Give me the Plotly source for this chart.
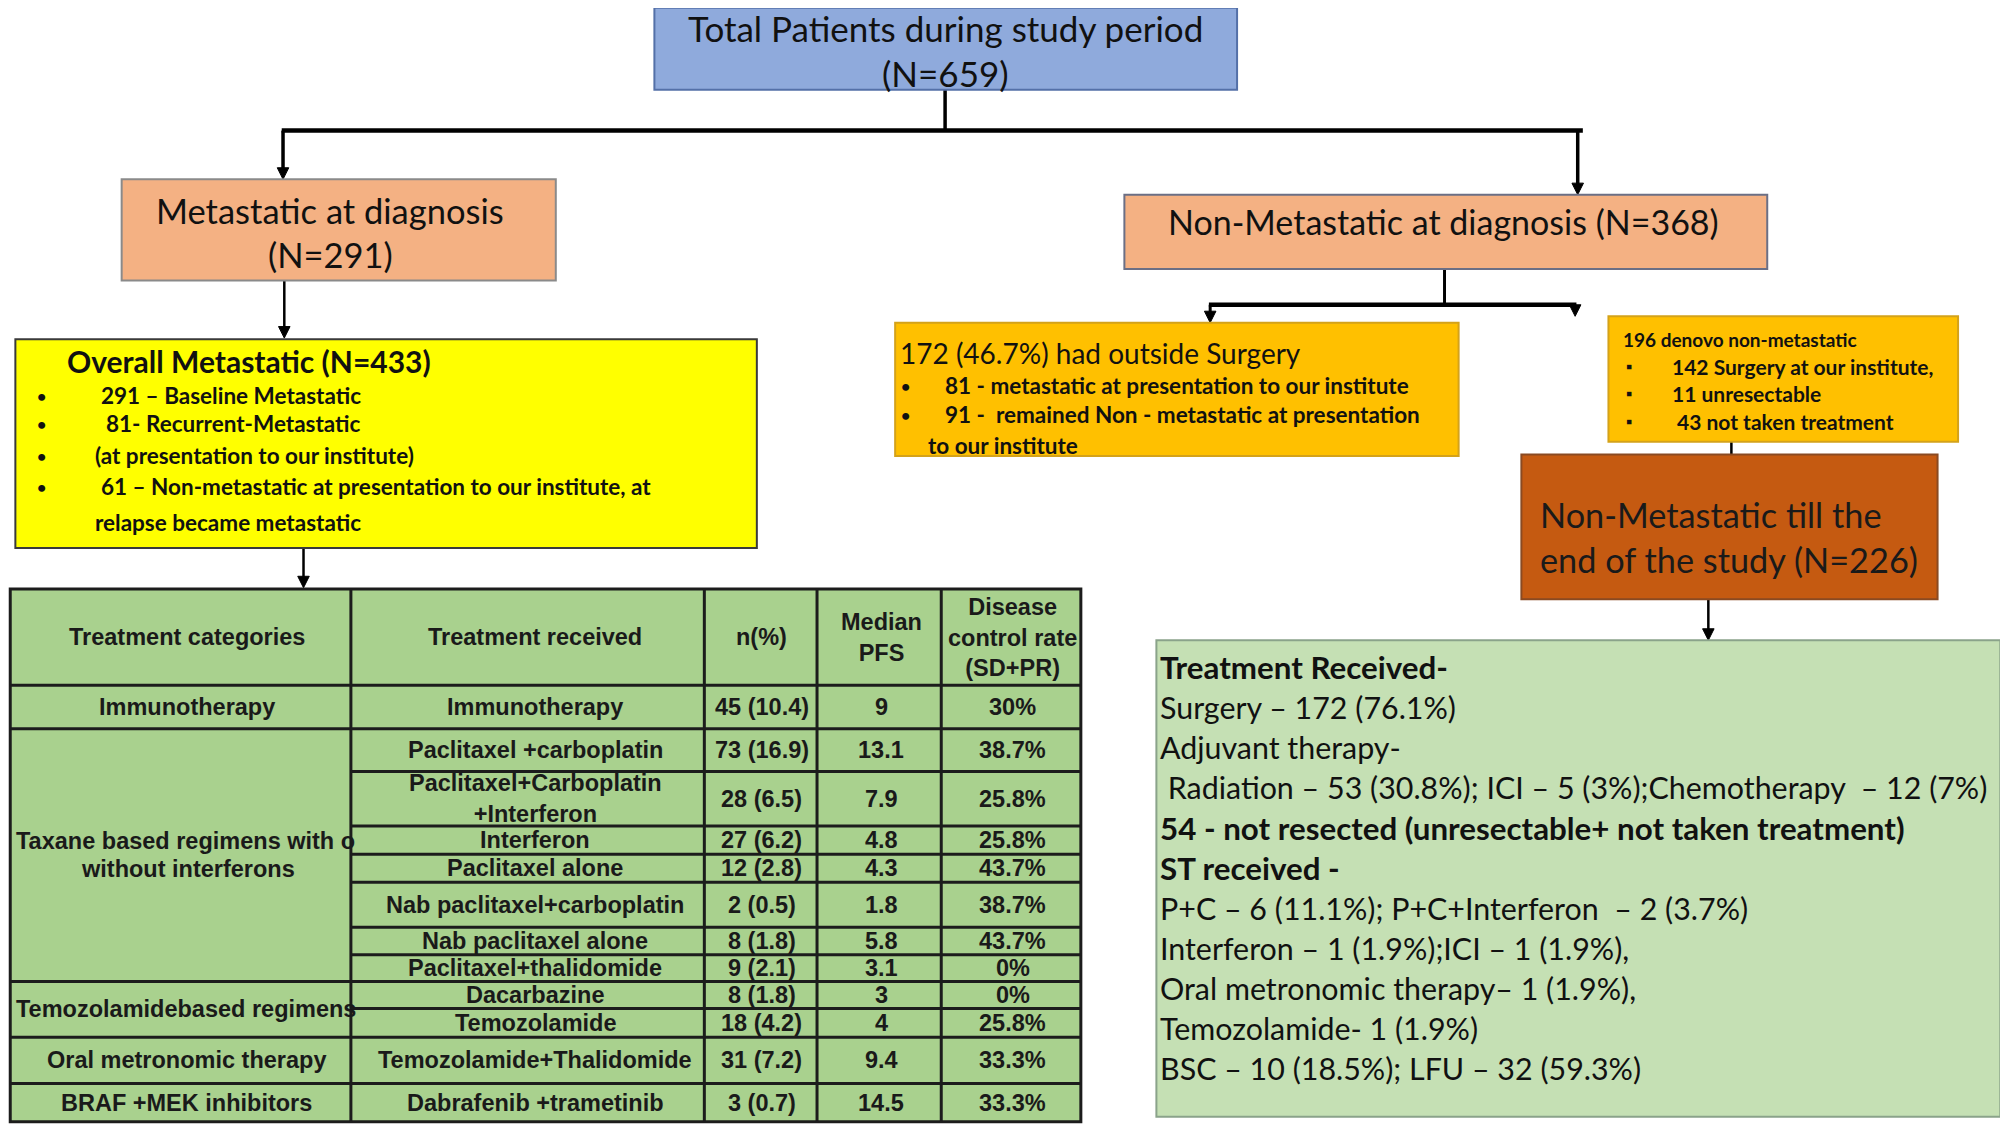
import plotly.graph_objects as go

W, H = 2008, 1128
XR = 1568.0
YR = XR * H / W
S = W / XR  # px per layout unit
OFF = 8 / S  # page body margin compensation

# ---------------- table data ----------------
table_headers = ["Treatment categories", "Treatment received", "n(%)",
                 "Median<br>PFS", "Disease<br>control rate<br>(SD+PR)"]
category_groups = ["Immunotherapy",
                   "Taxane based regimens with o<br>without interferons",
                   "Temozolamidebased regimens",
                   "Oral metronomic therapy",
                   "BRAF +MEK inhibitors"]
group_sizes = [1, 7, 2, 1, 1]
treatments = ["Immunotherapy", "Paclitaxel +carboplatin",
              "Paclitaxel+Carboplatin<br>+Interferon", "Interferon",
              "Paclitaxel alone", "Nab paclitaxel+carboplatin",
              "Nab paclitaxel alone", "Paclitaxel+thalidomide",
              "Dacarbazine", "Temozolamide", "Temozolamide+Thalidomide",
              "Dabrafenib +trametinib"]
n_pct = ["45 (10.4)", "73 (16.9)", "28 (6.5)", "27 (6.2)", "12 (2.8)",
         "2 (0.5)", "8 (1.8)", "9 (2.1)", "8 (1.8)", "18 (4.2)",
         "31 (7.2)", "3 (0.7)"]
median_pfs = ["9", "13.1", "7.9", "4.8", "4.3", "1.8", "5.8", "3.1",
              "3", "4", "9.4", "14.5"]
dcr = ["30%", "38.7%", "25.8%", "25.8%", "43.7%", "38.7%", "43.7%", "0%",
       "0%", "25.8%", "33.3%", "33.3%"]

# ---------------- flowchart texts ----------------
top_text = ["Total Patients during study period", "(N=659)"]
met_text = ["Metastatic at diagnosis", "(N=291)"]
nonmet_text = "Non-Metastatic at diagnosis (N=368)"
overall_title = "Overall Metastatic (N=433)"
overall_items = ["291 – Baseline Metastatic", "81- Recurrent-Metastatic",
                 "(at presentation to our institute)",
                 "61 – Non-metastatic at presentation to our institute, at"]
overall_cont = "relapse became metastatic"
outside_title = "172 (46.7%) had outside Surgery"
outside_items = ["81 - metastatic at presentation to our institute",
                 "91 -  remained Non - metastatic at presentation"]
outside_cont = "to our institute"
denovo_title = "196 denovo non-metastatic"
denovo_items = ["142 Surgery at our institute,", "11 unresectable",
                "43 not taken treatment"]
till_end_text = ["Non-Metastatic till the", "end of the study (N=226)"]
received_lines = [
    ("Treatment Received-", True),
    ("Surgery – 172 (76.1%)", False),
    ("Adjuvant therapy-", False),
    (" Radiation – 53 (30.8%); ICI – 5 (3%);Chemotherapy  – 12 (7%)", False),
    ("54 - not resected (unresectable+ not taken treatment)", True),
    ("ST received -", True),
    ("P+C – 6 (11.1%); P+C+Interferon  – 2 (3.7%)", False),
    ("Interferon – 1 (1.9%);ICI – 1 (1.9%),", False),
    ("Oral metronomic therapy– 1 (1.9%),", False),
    ("Temozolamide- 1 (1.9%)", False),
    ("BSC – 10 (18.5%); LFU – 32 (59.3%)", False),
]

# ---------------- layout geometry ----------------
col_edges = [8, 274, 550, 638, 735, 844]
col_text_x = [146, 418, 595, 688, 791]
row_edges = [460, 535, 569, 602.5, 645, 667, 689, 724, 745.5, 766.5, 787.5,
             810, 846, 876]

CAL = "Lato, 'Open Sans', sans-serif"
ARIAL = "'Liberation Sans', Arial, sans-serif"
INK = "#111111"

shapes = []
annots = []


def rect(x0, y0, x1, y1, fill, lc, lw=1.5):
    shapes.append(dict(type="rect", xref="x", yref="y", x0=x0, y0=y0,
                       x1=x1, y1=y1, fillcolor=fill,
                       line=dict(color=lc, width=lw), layer="above"))


def seg(x0, y0, x1, y1, color="#000000", w=3):
    shapes.append(dict(type="line", xref="x", yref="y", x0=x0, y0=y0,
                       x1=x1, y1=y1, line=dict(color=color, width=w),
                       layer="above"))


def head(x, y, hw=4.5, hl=9):
    shapes.append(dict(type="path", xref="x", yref="y",
                       path=f"M {x-hw},{y-hl} L {x+hw},{y-hl} L {x},{y} Z",
                       fillcolor="#000000", line=dict(color="#000000", width=1),
                       layer="above"))


def arrow(x, y0, y1, w=2.5):
    seg(x, y0, x, y1 - 6, w=w)
    head(x, y1)


def txt(x, y, s, size, bold=False, font=CAL, anchor="center", color=INK,
        align="center"):
    annots.append(dict(x=x, y=y, xref="x", yref="y", text=s, showarrow=False,
                       xanchor=anchor, yanchor="middle", align=align,
                       font=dict(family=font, size=size, color=color,
                                 weight="bold" if bold else "normal")))


# connectors
seg(738, 70, 738, 102, w=3.5)
seg(220, 102, 1236, 102, w=4.5)
arrow(221, 102, 140, w=3.5)
arrow(1232, 102, 152, w=3.5)
arrow(222, 219, 264)
arrow(237, 428, 459)
seg(1128, 210, 1128, 238, w=3)
seg(944, 238, 1231, 238, w=4.5)
arrow(945, 238, 252, w=3)
arrow(1230, 238, 247, w=3)
seg(1352, 345, 1352, 355, w=2.5)
arrow(1334, 468, 500)

# boxes
rect(511, 6, 966, 70, "#8FAADC", "#5470a8", 2)
txt(738, 22, top_text[0], 35)
txt(738, 57, top_text[1], 35)

rect(95, 140, 434, 219, "#F4B183", "#8a8a8a", 2)
txt(258, 164, met_text[0], 34.5)
txt(258, 199, met_text[1], 34.5)

rect(878, 152, 1380, 210, "#F4B183", "#6b6f85", 2)
txt(1127, 173, nonmet_text, 34)

rect(12, 265, 591, 428, "#FFFF00", "#3a3a3a", 2)
txt(51, 282, overall_title, 30, bold=True, anchor="left")
item_y = [309, 331, 356, 380]
item_x = [77, 81, 73, 77]
for s_, yy, xx in zip(overall_items, item_y, item_x):
    txt(27, yy, "•", 16, bold=True, anchor="left")
    txt(xx, yy, s_, 22.5, bold=True, anchor="left")
txt(73, 408, overall_cont, 22.5, bold=True, anchor="left")

rect(699, 252, 1139, 356, "#FFC000", "#d4a21a", 2)
txt(701, 276, outside_title, 28, anchor="left")
for s_, yy in zip(outside_items, [301, 324]):
    txt(702, yy, "•", 16, bold=True, anchor="left")
    txt(736, yy, s_, 22.5, bold=True, anchor="left")
txt(723, 348, outside_cont, 22.5, bold=True, anchor="left")

rect(1256, 247, 1529, 345, "#FFC000", "#d4a21a", 2)
txt(1266, 265, denovo_title, 19, bold=True, anchor="left")
for s_, yy, xx in zip(denovo_items, [286, 307, 329], [1304, 1304, 1308]):
    txt(1268, yy, "▪", 15, bold=True, anchor="left")
    txt(xx, yy, s_, 21, bold=True, anchor="left")

rect(1188, 355, 1513, 468, "#C55A11", "#8a4a22", 2)
txt(1201, 402, till_end_text[0], 34.3, anchor="left", color="#1a1a1a")
txt(1201, 437, till_end_text[1], 34.3, anchor="left", color="#1a1a1a")

rect(903, 500, 1562, 872, "#C5E0B4", "#8aa38a", 2)
for i, (s_, b) in enumerate(received_lines):
    txt(904, 521 + i * 31.3, s_, 31.3 if b else 30.4, bold=b, anchor="left",
        color="#111111")

# ---------------- table ----------------
TL = "#1c1c1c"
rect(col_edges[0], row_edges[0], col_edges[-1], row_edges[-1], "#A9D18E", TL, 3)
for xe in col_edges[1:-1]:
    seg(xe, row_edges[0], xe, row_edges[-1], color=TL, w=3)
for ye in row_edges[1:-1]:
    seg(col_edges[1], ye, col_edges[-1], ye, color=TL, w=3)
cum = 1
group_bounds = []
for g in group_sizes:
    top = row_edges[cum]
    cum += g
    bot = row_edges[cum]
    group_bounds.append((top, bot))
    if cum < len(row_edges) - 1:
        seg(col_edges[0], bot, col_edges[1], bot, color=TL, w=3)
seg(col_edges[0], row_edges[1], col_edges[1], row_edges[1], color=TL, w=3)

TS = 23.5
TC = "#1a1a1a"
hy = (row_edges[0] + row_edges[1]) / 2
for j, h in enumerate(table_headers):
    txt(col_text_x[j], hy, h, TS, bold=True, font=ARIAL, color=TC)

for lab, (t, b) in zip(category_groups, group_bounds):
    cy = (t + b) / 2
    parts = lab.split("<br>")
    if len(parts) == 2:
        txt(11, cy - 11, parts[0], TS, bold=True, font=ARIAL, anchor="left",
            color=TC)
        txt(col_text_x[0] + 1, cy + 11, parts[1], TS, bold=True, font=ARIAL,
            color=TC)
    elif lab.startswith("Temozolamide"):
        txt(11, cy, lab, TS, bold=True, font=ARIAL, anchor="left", color=TC)
    else:
        txt(col_text_x[0], cy, lab, TS, bold=True, font=ARIAL, color=TC)

for i in range(len(treatments)):
    cy = (row_edges[i + 1] + row_edges[i + 2]) / 2
    for j, col in enumerate([treatments, n_pct, median_pfs, dcr]):
        txt(col_text_x[j + 1], cy, col[i], TS, bold=True, font=ARIAL, color=TC)

fig = go.Figure()
fig.update_layout(
    width=W, height=H,
    margin=dict(l=0, r=0, t=0, b=0),
    paper_bgcolor="white", plot_bgcolor="white",
    xaxis=dict(range=[OFF, XR + OFF], visible=False, fixedrange=True),
    yaxis=dict(range=[YR + OFF, OFF], visible=False, fixedrange=True),
    shapes=shapes, annotations=annots, showlegend=False,
)
fig.write_html("out.html")
